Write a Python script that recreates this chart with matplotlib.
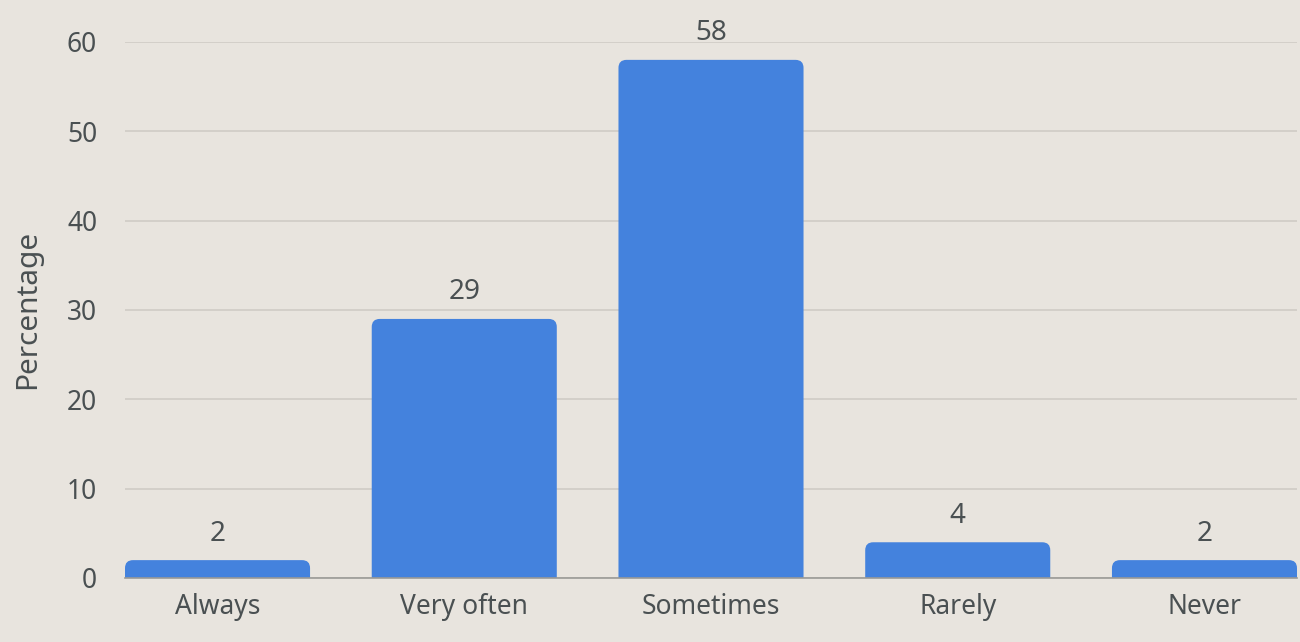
import matplotlib
matplotlib.use("Agg")
import matplotlib.pyplot as plt
from matplotlib.path import Path
from matplotlib.patches import PathPatch

categories = ["Always", "Very often", "Sometimes", "Rarely", "Never"]
values = [2, 29, 58, 4, 2]
y_ticks = [0, 10, 20, 30, 40, 50, 60]

BG = "#E8E4DE"
BAR = "#4482DD"
TXT = "#4A5052"
GRID = "#CFCBC5"
FS = 19

plt.rcParams["font.family"] = ["Noto Sans", "DejaVu Sans"]

fig = plt.figure(figsize=(13, 6.42), dpi=100, facecolor=BG)
ax = fig.add_axes([125 / 1300, 64 / 642, (1297 - 125) / 1300, (578 - 42) / 642])
ax.set_facecolor(BG)

x = list(range(len(categories)))
width = 0.75
ax.set_xlim(-0.375, len(categories) - 1 + 0.375)
ax.set_ylim(0, 60)

bars = ax.bar(x, values, width=width, color=BAR)
fig.canvas.draw()

# replace plain rectangles with bars that have rounded top corners
r_px = 8
inv = ax.transData.inverted()
x0p, y0p = ax.transData.transform((0, 0))
rx = inv.transform((x0p + r_px, y0p))[0]
ry = inv.transform((x0p, y0p + r_px))[1]
for b in bars:
    bx, by = b.get_x(), b.get_y()
    bw, bh = b.get_width(), b.get_height()
    ryy = min(ry, bh)
    verts = [
        (bx, by), (bx, by + bh - ryy),
        (bx, by + bh), (bx + rx, by + bh),
        (bx + bw - rx, by + bh),
        (bx + bw, by + bh), (bx + bw, by + bh - ryy),
        (bx + bw, by), (bx, by),
    ]
    codes = [Path.MOVETO, Path.LINETO, Path.CURVE3, Path.CURVE3, Path.LINETO,
             Path.CURVE3, Path.CURVE3, Path.LINETO, Path.CLOSEPOLY]
    ax.add_patch(PathPatch(Path(verts, codes), facecolor=BAR, edgecolor="none", zorder=3))
    b.remove()

for xi, v in zip(x, values):
    ax.annotate(str(v), (xi, v), xytext=(0, 9), textcoords="offset points",
                ha="center", va="bottom", fontsize=20, color=TXT, clip_on=False)

ax.set_yticks(y_ticks)
ax.set_xticks(x)
ax.set_xticklabels(categories)
ax.tick_params(axis="both", length=0, labelsize=FS, labelcolor=TXT)
ax.tick_params(axis="y", pad=20)
ax.tick_params(axis="x", pad=11)
ax.yaxis.grid(True, color=GRID, linewidth=1.2, zorder=0)
ax.set_axisbelow(True)
for s in ["top", "right", "left"]:
    ax.spines[s].set_visible(False)
ax.spines["bottom"].set_color("#9A9A96")
ax.spines["bottom"].set_linewidth(1.2)
ax.spines["bottom"].set_zorder(4)

fig.text(28 / 1300, 1 - 309 / 642, "Percentage", rotation=90, ha="center", va="center",
         fontsize=21.5, color=TXT)

fig.savefig("out.png", dpi=100, facecolor=BG)
